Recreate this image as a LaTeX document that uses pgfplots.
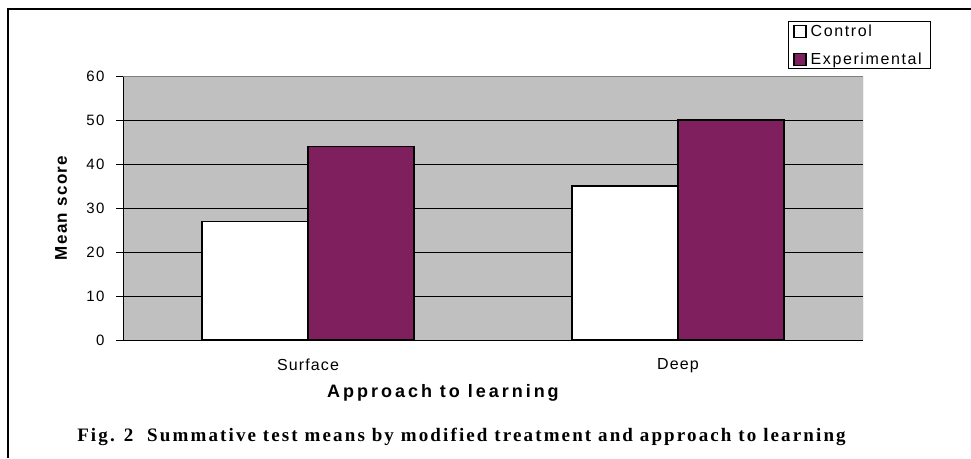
\documentclass[border=0pt]{standalone}
\usepackage{fontspec}
\setmainfont{Liberation Sans}
\usepackage{pgfplots}
\pgfplotsset{compat=1.18}
\newfontfamily\tickfont{Liberation Sans}[LetterSpace=7]
\newfontfamily\ytickfont{Liberation Sans}[LetterSpace=9]
\newfontfamily\legfont{Liberation Sans}[LetterSpace=10]
\newfontfamily\labfont{Liberation Sans}[LetterSpace=16.5]
\newfontfamily\ylabfont{Liberation Sans}[LetterSpace=8]
\newfontfamily\capfont{Liberation Serif}[LetterSpace=11.2]
\definecolor{plotbg}{RGB}{192,192,192}
\definecolor{expcol}{RGB}{128,31,94}
\definecolor{bordergray}{RGB}{128,128,128}
\begin{document}
\begin{tikzpicture}[x=1pt,y=1pt]
\useasboundingbox (0,0) rectangle (971,458);
\fill[white] (0,0) rectangle (971,458);
\draw[line width=1.5pt] (8,0) -- (8,449) -- (971,449);
\begin{axis}[
  at={(123pt,118pt)}, anchor=south west,
  scale only axis, width=740pt, height=264pt,
  xmin=0, xmax=2, ymin=0, ymax=60,
  ybar, ybar=0pt, bar width=106pt,
  legend image code/.code={\draw[#1,line width=1.2pt,draw=black] (2pt,-6pt) rectangle (14pt,6pt);},
  axis lines=left, axis line style={-, black, line width=1pt},
  ytick={0,10,20,30,40,50,60},
  xtick={0.5,1.5}, xticklabels={Surface,Deep},
  x tick style={draw=none},
  extra x ticks={0,1,2}, extra x tick labels={},
  extra x tick style={tick align=center, major tick length=11pt, tick style={draw=black, line width=0.8pt}},
  y tick style={black, line width=0.8pt},
  tick align=outside, major tick length=7pt,
  /pgf/number format/assume math mode=true,
  yticklabel style={font=\ytickfont\fontsize{15}{17}\selectfont, xshift=-8pt},
  xticklabel style={font=\tickfont\fontsize{16}{18}\selectfont, yshift=-8pt},
  axis background/.style={fill=plotbg},
  ymajorgrids, grid style={black, line width=0.9pt},
  xlabel={Approach to learning},
  xlabel style={font=\labfont\bfseries\fontsize{18}{20}\selectfont, at={(axis description cs:0.4324,-0.2008)}, anchor=center},
  ylabel={Mean score},
  ylabel style={font=\ylabfont\bfseries\fontsize{17}{19}\selectfont, at={(axis description cs:-0.0838,0.5)}, anchor=center, rotate=0},
  legend style={at={(axis description cs:0.8986,1.2083)}, anchor=north west, draw=black, line width=1pt, font=\legfont\fontsize{16}{18}\selectfont, row sep=15pt, inner xsep=5pt, inner ysep=3pt, cells={anchor=west}, nodes={inner xsep=4pt, inner ysep=0pt}},
]
\addplot[fill=white, draw=black, line width=1.2pt] coordinates {(0.5,27) (1.5,35)};
\addplot[fill=expcol, draw=black, line width=1.2pt] coordinates {(0.5,44) (1.5,50)};
\legend{Control,Experimental}
\draw[bordergray, line width=1pt] (rel axis cs:0,1) -- (rel axis cs:1,1) -- (rel axis cs:1,0);
\end{axis}
\node[font=\capfont\bfseries\fontsize{19}{21}\selectfont, anchor=center] at (461.5,21) {Fig. 2\ \ Summative test means by modified treatment and approach to learning};
\end{tikzpicture}
\end{document}
